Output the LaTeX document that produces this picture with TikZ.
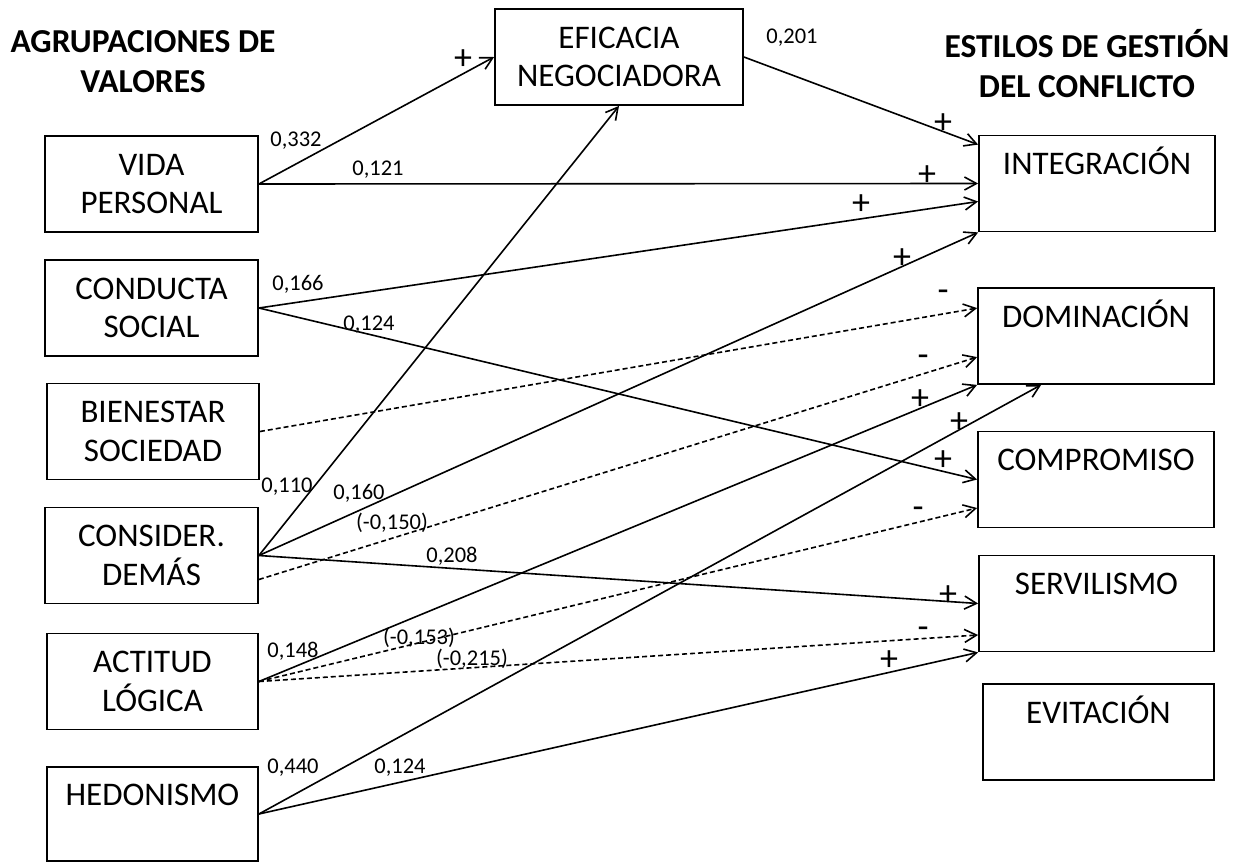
\documentclass[tikz,border=0pt]{standalone}
\usepackage{fontspec}
\setmainfont{Carlito}
\usetikzlibrary{arrows.meta,calc}

% two-line box text with fixed line struts, so every box has the same layout
\newcommand\twolines[2]{\rule[-9pt]{0pt}{38.5pt}#1\\\rule[-9pt]{0pt}{38.5pt}#2}
\newcommand\headlines[2]{\rule[-10pt]{0pt}{40pt}#1\\\rule[-10pt]{0pt}{40pt}#2}

\tikzset{
  box/.style={draw, line width=1.8pt, minimum width=#1, minimum height=96pt,
    inner sep=0pt, align=center, font=\fontsize{33}{38.5}\selectfont},
  box/.default=213pt,
  head/.style={align=center, inner sep=0pt, font=\bfseries\fontsize{33.5}{40}\selectfont},
  coef/.style={font=\fontsize{22.5}{26}\selectfont, inner sep=0pt},
  sign/.style={font=\fontsize{36}{40}\selectfont, inner sep=0pt},
  link/.style={line width=1.6pt, -{Straight Barb[length=12pt,width=13pt]}},
  neg/.style={link, dash pattern=on 5pt off 3pt},
}

\begin{document}
\begin{tikzpicture}[x=1pt,y=-1pt]
\useasboundingbox (0,0) rectangle (1249,862);

% headings
\node[head] (hval) at (143,62) {\headlines{AGRUPACIONES DE}{VALORES}};
\node[head] (hest) at (1087,67) {\headlines{ESTILOS DE GESTIÓN}{DEL CONFLICTO}};

% value groups
\node[box] (vida) at (151.5,184) {\twolines{VIDA}{PERSONAL}};
\node[box] (cond) at (151.5,308) {\twolines{CONDUCTA}{SOCIAL}};
\node[box=212pt] (bien) at (153,431.5) {\twolines{BIENESTAR}{SOCIEDAD}};
\node[box] (cons) at (151.5,555.5) {\twolines{CONSIDER.}{DEMÁS}};
\node[box=211pt] (acti) at (152.5,681.5) {\twolines{ACTITUD}{LÓGICA}};
\node[box=211pt, minimum height=94pt] (hedo) at (152.5,814) {\twolines{HEDONISMO}{}};

% mediator
\node[box=248pt] (efic) at (619,57) {\twolines{EFICACIA}{NEGOCIADORA}};

% conflict management styles
\node[box=236pt] (integ) at (1097,183.5) {\twolines{INTEGRACIÓN}{}};
\node[box=236pt] (domi) at (1096,336) {\twolines{DOMINACIÓN}{}};
\node[box=236pt] (comp) at (1096,479.5) {\twolines{COMPROMISO}{}};
\node[box=235pt] (serv) at (1096.5,603.5) {\twolines{SERVILISMO}{}};
\node[box=231pt] (evit) at (1098.5,732) {\twolines{EVITACIÓN}{}};

% paths
\draw[link] (vida.east) -- (efic.west);
\draw[link] (vida.east) -- (integ.west);
\draw[link] (efic.east) -- ($(integ.north west)+(0,10)$);
\draw[link] (cond.east) -- ($(integ.west)+(0,18)$);
\draw[link] (cond.east) -- (comp.west);
\draw[neg]  (bien.east) -- ($(domi.north west)+(0,21)$);
\draw[link] (cons.east) -- (efic.south);
\draw[link] (cons.east) -- (integ.south west);
\draw[neg]  ($(cons.east)+(0,24)$) -- ($(domi.north west)+(0,70)$);
\draw[link] (cons.east) -- (serv.west);
\draw[link] (acti.east) -- (domi.south west);
\draw[neg]  (acti.east) -- ($(comp.west)+(0,28.5)$);
\draw[neg]  (acti.east) -- ($(serv.west)+(0,31.5)$);
\draw[link] (hedo.east) -- ($(domi.south west)+(64,0)$);
\draw[link] (hedo.east) -- (serv.south west);

% coefficients
\node[coef] (c1) at (296,141) {0,332};
\node[coef] (c2) at (378,170) {0,121};
\node[coef] (c3) at (792,38) {0,201};
\node[coef] (c4) at (298,284) {0,166};
\node[coef] (c5) at (369,325) {0,124};
\node[coef] (c6) at (287,487) {0,110};
\node[coef] (c7) at (359,493) {0,160};
\node[coef] (c8) at (392,523) {(-0,150)};
\node[coef] (c9) at (452,556) {0,208};
\node[coef] (c10) at (293,651) {0,148};
\node[coef] (c11) at (419,638) {(-0,153)};
\node[coef] (c12) at (472,659) {(-0,215)};
\node[coef] (c13) at (293,768) {0,440};
\node[coef] (c14) at (400,768) {0,124};

% signs
\node[sign] (s1) at (463,60) {+};
\node[sign] (s2) at (943,124) {+};
\node[sign] (s3) at (927,176) {+};
\node[sign] (s4) at (861,205) {+};
\node[sign] (s5) at (902,259) {+};
\node[sign] (s6) at (943,296) {-};
\node[sign] (s7) at (923,361) {-};
\node[sign] (s8) at (920,400) {+};
\node[sign] (s9) at (959,423) {+};
\node[sign] (s10) at (943,461) {+};
\node[sign] (s11) at (918,513) {-};
\node[sign] (s12) at (948,596) {+};
\node[sign] (s13) at (923,633) {-};
\node[sign] (s14) at (889,661) {+};
\end{tikzpicture}
\end{document}
